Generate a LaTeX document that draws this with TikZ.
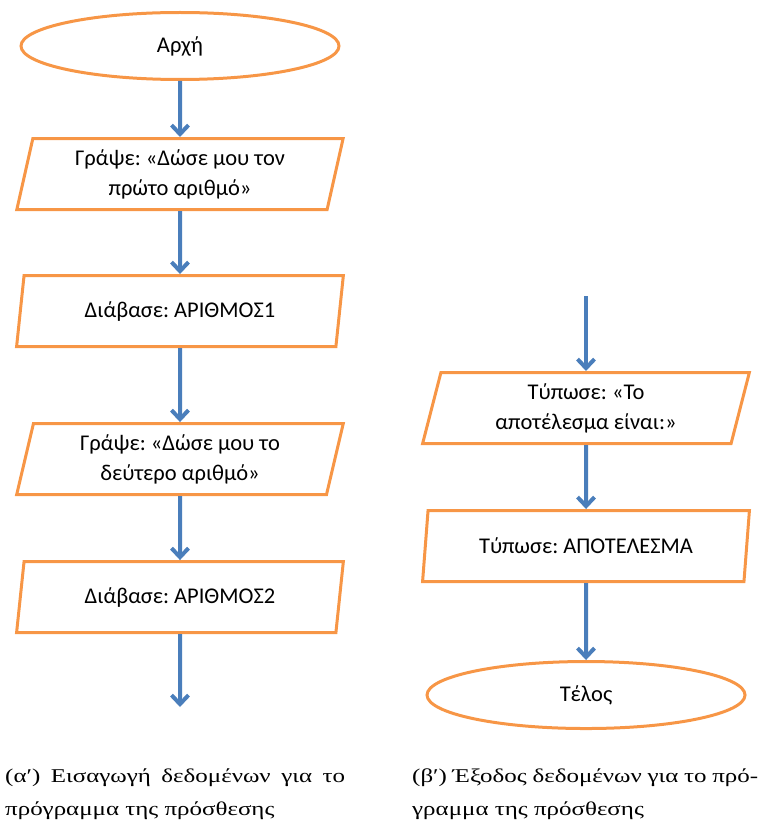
\documentclass[tikz,border=0pt]{standalone}
\usepackage{fontspec}
\setmainfont{Carlito}
\newfontfamily\capfont[FakeStretch=1.28]{Liberation Serif}
\usepackage{xcolor}
\usetikzlibrary{shapes.geometric, arrows.meta, positioning}
\definecolor{FlowOrange}{RGB}{247,150,70}
\definecolor{FlowBlue}{RGB}{74,126,187}
\frenchspacing

\begin{document}
\begin{tikzpicture}[
  x=1pt, y=-1pt,
  font=\fontsize{22.5}{30}\selectfont,
  startstop/.style={ellipse, draw=FlowOrange, line width=3pt,
                    minimum width=318pt, minimum height=67pt},
  iobox/.style={trapezium, trapezium left angle=77, trapezium right angle=103,
                trapezium stretches=true, draw=FlowOrange, line width=3pt,
                minimum width=327pt, minimum height=71pt, align=center,
                inner sep=0pt},
  flow/.style={-{Straight Barb[length=9pt, width=17pt]}, draw=FlowBlue,
               line width=4pt},
  caption/.style={font=\capfont\fontsize{19.5}{32}\selectfont, anchor=base west,
                  inner sep=0pt},
]
\useasboundingbox (0,0) rectangle (761,824);

% input column
\node[startstop] (start) at (180,46) {Αρχή};
\node[iobox, below=56pt of start] (ask1) {Γράψε: «Δώσε μου τον\\πρώτο αριθμό»};
\node[iobox, below=63pt of ask1] (read1) {Διάβασε: ΑΡΙΘΜΟΣ1};
\node[iobox, below=74pt of read1] (ask2) {Γράψε: «Δώσε μου το\\δεύτερο αριθμό»};
\node[iobox, below=64pt of ask2] (read2) {Διάβασε: ΑΡΙΘΜΟΣ2};
\coordinate (outa) at (180,707);
\draw[flow] (start) -- (ask1);
\draw[flow] (ask1) -- (read1);
\draw[flow] (read1) -- (ask2);
\draw[flow] (ask2) -- (read2);
\draw[flow] (read2) -- (outa);

% output column
\coordinate (inb) at (586,296);
\node[iobox] (say1) at (586,408) {Τύπωσε: «Το\\αποτέλεσμα είναι:»};
\node[iobox, below=64pt of say1] (say2) {Τύπωσε: ΑΠΟΤΕΛΕΣΜΑ};
\node[startstop, below=77pt of say2] (stop) {Τέλος};
\draw[flow] (inb) -- (say1);
\draw[flow] (say1) -- (say2);
\draw[flow] (say2) -- (stop);

% captions
\node[caption] (capa1) at (5,782) {\makebox[340pt][s]{(α′) Εισαγωγή δεδομένων για το}};
\node[caption] (capa2) at (5,815) {πρόγραμμα της πρόσθεσης};
\node[caption] (capb1) at (412,782) {\makebox[346pt][s]{(β′) Έξοδος δεδομένων για το πρό-}};
\node[caption] (capb2) at (412,815) {γραμμα της πρόσθεσης};

\end{tikzpicture}
\end{document}
